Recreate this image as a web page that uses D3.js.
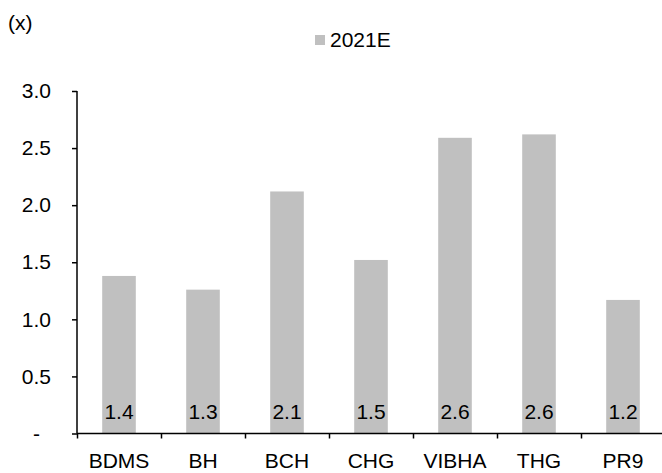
<!DOCTYPE html>
<html>
<head>
<meta charset="utf-8">
<script src="https://cdn.jsdelivr.net/npm/d3@7"></script>
<style>
	body { margin: 0; background: white; }
	svg text { font-family: "Liberation Sans", Arial, sans-serif; fill: #000; }
</style>
</head>
<body>
<script>
var categories = ['BDMS', 'BH', 'BCH', 'CHG', 'VIBHA', 'THG', 'PR9']
var values2021E = [1.38, 1.26, 2.12, 1.52, 2.59, 2.62, 1.17]
var valueLabels = ['1.4', '1.3', '2.1', '1.5', '2.6', '2.6', '1.2']
var yTicks = [0, 0.5, 1.0, 1.5, 2.0, 2.5, 3.0]
var yTickLabels = ['-', '0.5', '1.0', '1.5', '2.0', '2.5', '3.0']
var seriesName = '2021E'
var unitLabel = '(x)'

var width = 662,
	height = 473,
	fontSize = 21

var svg = d3.select('body').append('svg')
	.attr('width', width)
	.attr('height', height)

var x = d3.scaleBand()
	.domain(categories)
	.range([77, 665])
	.paddingInner(0.6)
	.paddingOuter(0.3)
	.align(0.5)

// band ticks sit on the boundaries, not the centres
var xEdges = d3.scaleLinear()
	.domain([0, categories.length])
	.range([77, 665])

var y = d3.scaleLinear()
	.domain([0, 3])
	.range([433.5, 91])

// bars
svg.selectAll('rect.bar')
	.data(categories)
	.enter()
	.append('rect')
		.attr('class', 'bar')
		.attr('x', d => x(d))
		.attr('width', x.bandwidth())
		.attr('y', (d, i) => y(values2021E[i]))
		.attr('height', (d, i) => y(0) - y(values2021E[i]))
		.attr('fill', '#c0c0c0')

// value labels at the foot of each bar
svg.selectAll('text.val')
	.data(categories)
	.enter()
	.append('text')
		.attr('class', 'val')
		.attr('x', d => x(d) + x.bandwidth() / 2)
		.attr('y', 419)
		.attr('text-anchor', 'middle')
		.style('font-size', fontSize + 'px')
		.text((d, i) => valueLabels[i])

// y axis
var yAxis = svg.append('g')
	.attr('transform', 'translate(77,0)')
	.call(d3.axisLeft(y)
		.tickValues(yTicks)
		.tickSize(5)
		.tickPadding(24)
		.tickFormat((d, i) => yTickLabels[i]))
yAxis.select('.domain').attr('stroke', '#000').attr('stroke-width', 1.5)
	.attr('d', 'M0,' + y(3) + 'V' + y(0))
yAxis.selectAll('.tick line').attr('stroke', '#000').attr('stroke-width', 1.5)
yAxis.selectAll('.tick text')
	.style('font-size', fontSize + 'px')
	.attr('font-family', null)
	.attr('x', (d, i) => i == 0 ? -37 : -26)

// x axis
var xAxis = svg.append('g')
	.attr('transform', 'translate(0,' + y(0) + ')')
	.call(d3.axisBottom(xEdges)
		.tickValues(d3.range(categories.length + 1))
		.tickSize(5)
		.tickFormat(''))
xAxis.select('.domain').attr('stroke', '#000').attr('stroke-width', 1.5)
	.attr('d', 'M77,0H665')
xAxis.selectAll('.tick line').attr('stroke', '#000').attr('stroke-width', 1.5)

svg.append('g')
	.selectAll('text')
	.data(categories)
	.enter()
	.append('text')
		.attr('x', d => x(d) + x.bandwidth() / 2)
		.attr('y', 468)
		.attr('text-anchor', 'middle')
		.style('font-size', fontSize + 'px')
		.text(d => d)

// unit label
svg.append('text')
	.attr('x', 8)
	.attr('y', 30)
	.style('font-size', fontSize + 'px')
	.text(unitLabel)

// legend
svg.append('rect')
	.attr('x', 315)
	.attr('y', 35)
	.attr('width', 10)
	.attr('height', 10)
	.attr('fill', '#c0c0c0')

svg.append('text')
	.attr('x', 330)
	.attr('y', 47)
	.style('font-size', fontSize + 'px')
	.text(seriesName)
</script>
</body>
</html>
